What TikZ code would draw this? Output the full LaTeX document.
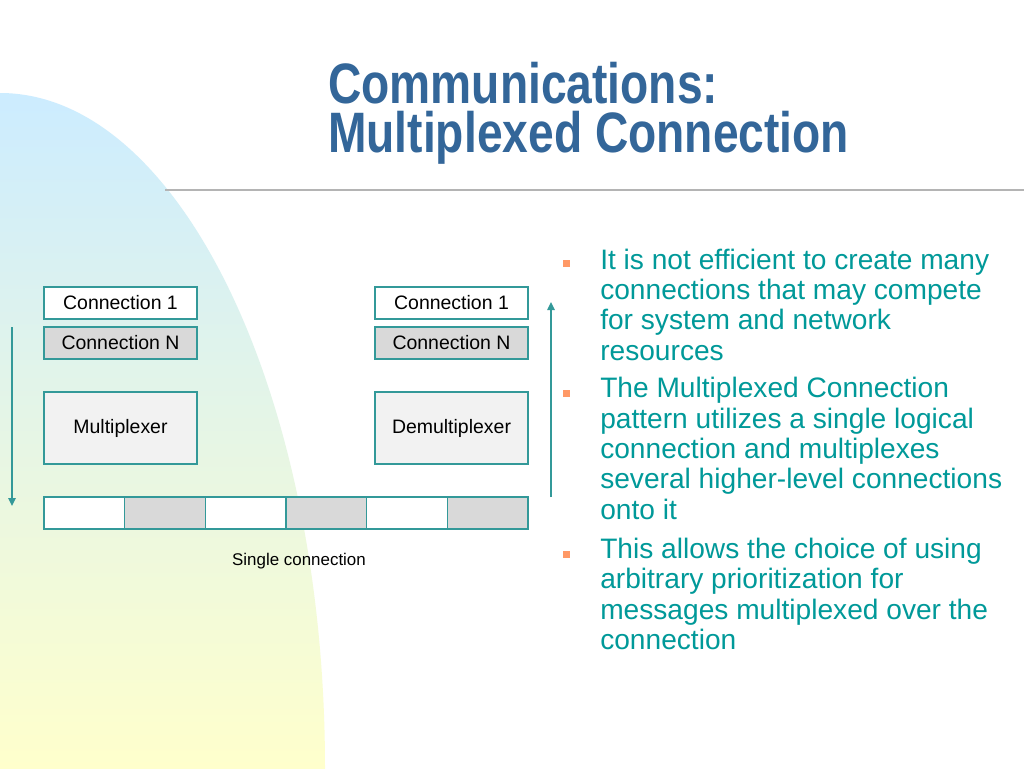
\documentclass[tikz,border=0pt]{standalone}
\usepackage{fontspec}
\setmainfont{Liberation Sans}
\newfontfamily\titlefont[FakeStretch=0.81]{Liberation Sans}
\usetikzlibrary{arrows.meta}
\definecolor{titleblue}{RGB}{51,102,153}
\definecolor{tealtext}{RGB}{0,153,153}
\definecolor{boxline}{RGB}{51,153,153}
\definecolor{cellgray}{RGB}{217,217,217}
\definecolor{muxfill}{RGB}{242,242,242}
\definecolor{bulletor}{RGB}{255,153,102}
\definecolor{skyblue}{RGB}{204,236,255}
\definecolor{paleyellow}{RGB}{255,255,204}
\definecolor{rulegray}{RGB}{180,180,180}
\begin{document}
\begin{tikzpicture}[x=0.75pt,y=-0.75pt,
  box/.style={draw=boxline, line width=1pt, minimum width=114.75pt, minimum height=24pt,
    inner sep=0pt, font=\fontsize{14.6}{17}\selectfont, text=black},
  cell/.style={box, minimum width=60.5pt},
  arr/.style={draw=boxline, line width=1.1pt, -{Triangle[width=5.5pt,length=6pt]}},
  bsq/.style={fill=bulletor, minimum size=5.25pt, inner sep=0pt},
  btext/.style={anchor=base west, align=left, inner sep=0pt, text=tealtext,
    font=\fontsize{21.1}{22.7}\selectfont},
]
\useasboundingbox (0,0) rectangle (1024,768);
\fill[white] (0,0) rectangle (1024,768);
% background shape
\begin{scope}
  \clip (0,768) ellipse [x radius=325, y radius=675];
  \shade[top color=skyblue, bottom color=paleyellow] (0,93) rectangle (326,768);
\end{scope}
% title (base anchor = baseline of the last line)
\node[anchor=base west, align=left, inner sep=0pt, text=titleblue,
  font=\titlefont\bfseries\fontsize{42.75}{36.75}\selectfont] (title) at (328,152)
  {Communications:\\Multiplexed Connection};
\coordinate (rl) at (165,190);
\coordinate (rr) at (1024,190);
\draw[rulegray, line width=1.3pt] (rl) -- (rr);
% left stack
\node[box, fill=white] (c1l) at (120.5,303) {Connection 1};
\node[box, fill=cellgray] (cnl) at (120.5,343) {Connection N};
\node[box, fill=muxfill, minimum height=54pt] (mux) at (120.5,428) {Multiplexer};
% right stack
\node[box, fill=white] (c1r) at (451.5,303) {Connection 1};
\node[box, fill=cellgray] (cnr) at (451.5,343) {Connection N};
\node[box, fill=muxfill, minimum height=54pt] (demux) at (451.5,428) {Demultiplexer};
% single connection bar
\foreach \i/\f in {0/white,1/cellgray,2/white,3/cellgray,4/white,5/cellgray}{
  \node[cell, fill=\f] (s\i) at ({44+40.333+\i*80.667},513) {};
}
\node[font=\fontsize{12.7}{15}\selectfont, inner sep=0pt] (single) at (299,561) {Single connection};
% arrows
\coordinate (dtop) at (12,327);
\coordinate (dbot) at (12,506);
\draw[arr] (dtop) -- (dbot);
\coordinate (ubot) at (551,497);
\coordinate (utop) at (551,302);
\draw[arr] (ubot) -- (utop);
% bullets
\node[bsq] (q1) at (566.5,263.5) {};
\node[bsq] (q2) at (566.5,393.5) {};
\node[bsq] (q3) at (566.5,554) {};
\node[btext] (t1) at (600,360) {It is not efficient to create many\\connections that may compete\\for system and network\\resources};
\node[btext] (t2) at (600,519) {The Multiplexed Connection\\pattern utilizes a single logical\\connection and multiplexes\\several higher-level connections\\onto it};
\node[btext] (t3) at (600,649.5) {This allows the choice of using\\arbitrary prioritization for\\messages multiplexed over the\\connection};
\end{tikzpicture}
\end{document}
